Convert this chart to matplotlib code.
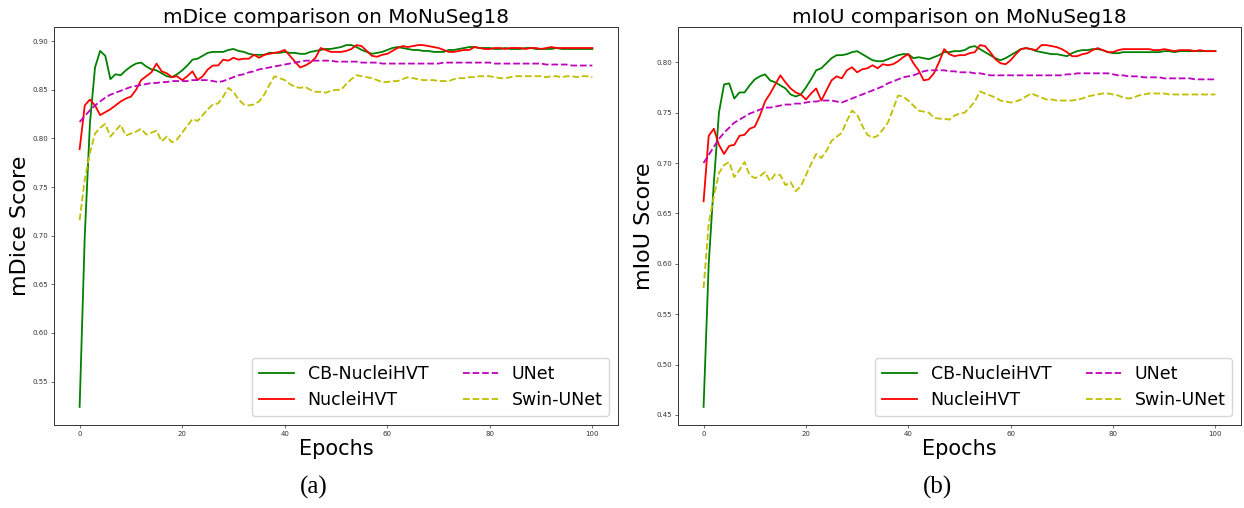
import matplotlib
matplotlib.use("Agg")
import matplotlib.pyplot as plt

plt.rcParams['font.family'] = ['DejaVu Sans']

epochs = list(range(0, 101))

# ---------------- (a) mDice ----------------
dice_cb = [0.524, 0.700, 0.815, 0.873, 0.890, 0.885, 0.861, 0.866, 0.865, 0.870,
           0.874, 0.877, 0.878, 0.874, 0.871, 0.870, 0.867, 0.864, 0.863, 0.866,
           0.870, 0.875, 0.881, 0.882, 0.885, 0.888, 0.889, 0.889, 0.889, 0.891,
           0.892, 0.890, 0.889, 0.887, 0.886, 0.886, 0.886, 0.888, 0.888, 0.888,
           0.889, 0.888, 0.888, 0.887, 0.887, 0.889, 0.890, 0.891, 0.892, 0.892,
           0.893, 0.894, 0.896, 0.896, 0.894, 0.891, 0.889, 0.887, 0.888, 0.889,
           0.891, 0.893, 0.894, 0.893, 0.892, 0.891, 0.891, 0.890, 0.890, 0.889,
           0.889, 0.889, 0.891, 0.891, 0.892, 0.893, 0.894, 0.894, 0.893, 0.893,
           0.893, 0.892, 0.892, 0.893, 0.892, 0.892, 0.892, 0.893, 0.893, 0.892,
           0.892, 0.892, 0.892, 0.893, 0.892, 0.892, 0.892, 0.892, 0.892, 0.892,
           0.892]
dice_hvt = [0.789, 0.834, 0.840, 0.834, 0.824, 0.827, 0.830, 0.834, 0.838, 0.841,
            0.843, 0.850, 0.860, 0.864, 0.868, 0.877, 0.869, 0.867, 0.863, 0.864,
            0.860, 0.864, 0.869, 0.860, 0.864, 0.871, 0.875, 0.875, 0.881, 0.880,
            0.883, 0.881, 0.882, 0.882, 0.886, 0.883, 0.886, 0.887, 0.888, 0.889,
            0.891, 0.885, 0.879, 0.873, 0.875, 0.878, 0.883, 0.893, 0.891, 0.889,
            0.889, 0.889, 0.890, 0.892, 0.896, 0.895, 0.890, 0.885, 0.884, 0.886,
            0.887, 0.890, 0.893, 0.895, 0.894, 0.895, 0.896, 0.896, 0.895, 0.894,
            0.893, 0.891, 0.889, 0.889, 0.890, 0.891, 0.891, 0.894, 0.893, 0.892,
            0.892, 0.893, 0.893, 0.892, 0.893, 0.893, 0.893, 0.892, 0.893, 0.893,
            0.892, 0.893, 0.894, 0.893, 0.893, 0.893, 0.893, 0.893, 0.893, 0.893,
            0.893]
dice_unet = [0.817, 0.823, 0.829, 0.834, 0.838, 0.842, 0.845, 0.847, 0.849, 0.851,
             0.853, 0.854, 0.855, 0.856, 0.857, 0.857, 0.858, 0.858, 0.859, 0.859,
             0.859, 0.859, 0.860, 0.860, 0.860, 0.860, 0.859, 0.858, 0.859, 0.861,
             0.863, 0.865, 0.866, 0.868, 0.869, 0.871, 0.872, 0.873, 0.874, 0.875,
             0.876, 0.877, 0.878, 0.879, 0.880, 0.880, 0.880, 0.880, 0.880, 0.880,
             0.879, 0.879, 0.879, 0.879, 0.879, 0.878, 0.878, 0.878, 0.878, 0.877,
             0.877, 0.877, 0.877, 0.877, 0.877, 0.877, 0.877, 0.877, 0.877, 0.877,
             0.877, 0.878, 0.878, 0.878, 0.878, 0.878, 0.878, 0.878, 0.878, 0.878,
             0.878, 0.877, 0.877, 0.877, 0.877, 0.877, 0.877, 0.877, 0.877, 0.877,
             0.877, 0.876, 0.876, 0.876, 0.876, 0.876, 0.875, 0.875, 0.875, 0.875,
             0.875]
dice_swin = [0.716, 0.758, 0.785, 0.805, 0.811, 0.815, 0.802, 0.808, 0.814, 0.803,
             0.805, 0.807, 0.810, 0.804, 0.806, 0.808, 0.797, 0.802, 0.796, 0.799,
             0.806, 0.813, 0.820, 0.818, 0.824, 0.830, 0.835, 0.836, 0.843, 0.852,
             0.848, 0.840, 0.835, 0.834, 0.835, 0.838, 0.845, 0.855, 0.864, 0.862,
             0.860, 0.856, 0.853, 0.852, 0.853, 0.850, 0.848, 0.848, 0.847, 0.849,
             0.850, 0.850, 0.856, 0.861, 0.865, 0.864, 0.863, 0.862, 0.860, 0.858,
             0.858, 0.859, 0.859, 0.861, 0.863, 0.862, 0.861, 0.860, 0.860, 0.860,
             0.859, 0.859, 0.859, 0.861, 0.862, 0.862, 0.863, 0.863, 0.864, 0.864,
             0.864, 0.863, 0.862, 0.862, 0.863, 0.864, 0.864, 0.864, 0.864, 0.864,
             0.864, 0.863, 0.864, 0.864, 0.863, 0.864, 0.864, 0.863, 0.864, 0.864,
             0.863]

# ---------------- (b) mIoU ----------------
iou_cb = [0.458, 0.600, 0.680, 0.750, 0.778, 0.779, 0.764, 0.770, 0.770, 0.777,
          0.783, 0.786, 0.788, 0.782, 0.780, 0.777, 0.774, 0.768, 0.766, 0.768,
          0.775, 0.783, 0.792, 0.794, 0.799, 0.804, 0.807, 0.807, 0.808, 0.810,
          0.811, 0.808, 0.805, 0.802, 0.801, 0.801, 0.803, 0.805, 0.807, 0.808,
          0.808, 0.804, 0.805, 0.804, 0.803, 0.805, 0.807, 0.810, 0.810, 0.811,
          0.811, 0.812, 0.815, 0.816, 0.813, 0.810, 0.807, 0.804, 0.802, 0.804,
          0.807, 0.810, 0.813, 0.814, 0.813, 0.811, 0.810, 0.809, 0.808, 0.808,
          0.807, 0.806, 0.809, 0.811, 0.812, 0.812, 0.813, 0.813, 0.812, 0.810,
          0.809, 0.809, 0.810, 0.810, 0.810, 0.810, 0.810, 0.810, 0.810, 0.810,
          0.811, 0.811, 0.810, 0.811, 0.811, 0.811, 0.811, 0.811, 0.811, 0.811,
          0.811]
iou_hvt = [0.662, 0.727, 0.734, 0.718, 0.709, 0.717, 0.718, 0.727, 0.728, 0.734,
           0.736, 0.747, 0.761, 0.769, 0.778, 0.787, 0.780, 0.774, 0.770, 0.768,
           0.763, 0.769, 0.774, 0.762, 0.772, 0.782, 0.786, 0.784, 0.792, 0.795,
           0.790, 0.793, 0.794, 0.797, 0.794, 0.798, 0.797, 0.798, 0.801, 0.805,
           0.808, 0.799, 0.792, 0.782, 0.783, 0.789, 0.800, 0.813, 0.808, 0.806,
           0.807, 0.807, 0.809, 0.810, 0.817, 0.816, 0.810, 0.803, 0.799, 0.798,
           0.802, 0.808, 0.813, 0.814, 0.813, 0.812, 0.817, 0.817, 0.816, 0.815,
           0.813, 0.810, 0.806, 0.806, 0.808, 0.809, 0.812, 0.814, 0.812, 0.810,
           0.810, 0.812, 0.813, 0.813, 0.813, 0.813, 0.813, 0.813, 0.812, 0.812,
           0.813, 0.812, 0.811, 0.812, 0.812, 0.812, 0.811, 0.812, 0.811, 0.811,
           0.811]
iou_unet = [0.700, 0.708, 0.716, 0.724, 0.730, 0.735, 0.740, 0.743, 0.746, 0.749,
            0.751, 0.753, 0.755, 0.755, 0.756, 0.757, 0.758, 0.758, 0.759, 0.759,
            0.760, 0.761, 0.761, 0.762, 0.762, 0.762, 0.761, 0.760, 0.762, 0.764,
            0.766, 0.768, 0.770, 0.772, 0.774, 0.776, 0.779, 0.781, 0.783, 0.785,
            0.786, 0.787, 0.789, 0.791, 0.792, 0.792, 0.792, 0.792, 0.791, 0.791,
            0.790, 0.790, 0.790, 0.789, 0.789, 0.788, 0.787, 0.787, 0.787, 0.787,
            0.787, 0.787, 0.787, 0.787, 0.787, 0.787, 0.787, 0.787, 0.787, 0.787,
            0.787, 0.788, 0.788, 0.789, 0.789, 0.789, 0.789, 0.789, 0.789, 0.789,
            0.788, 0.787, 0.787, 0.786, 0.786, 0.786, 0.785, 0.785, 0.785, 0.785,
            0.784, 0.784, 0.784, 0.784, 0.784, 0.784, 0.783, 0.783, 0.783, 0.783,
            0.783]
iou_swin = [0.576, 0.640, 0.667, 0.690, 0.698, 0.701, 0.686, 0.693, 0.701, 0.688,
            0.685, 0.687, 0.691, 0.682, 0.689, 0.688, 0.678, 0.681, 0.672, 0.677,
            0.688, 0.699, 0.709, 0.705, 0.712, 0.722, 0.726, 0.730, 0.742, 0.752,
            0.748, 0.737, 0.728, 0.725, 0.727, 0.733, 0.740, 0.753, 0.767, 0.766,
            0.762, 0.757, 0.752, 0.751, 0.750, 0.745, 0.744, 0.744, 0.743, 0.747,
            0.749, 0.750, 0.755, 0.761, 0.771, 0.769, 0.767, 0.765, 0.762, 0.761,
            0.760, 0.761, 0.763, 0.766, 0.769, 0.767, 0.765, 0.763, 0.763, 0.762,
            0.762, 0.762, 0.762, 0.763, 0.764, 0.766, 0.767, 0.768, 0.769, 0.769,
            0.768, 0.767, 0.765, 0.764, 0.765, 0.767, 0.768, 0.769, 0.769, 0.769,
            0.769, 0.768, 0.768, 0.768, 0.768, 0.768, 0.768, 0.768, 0.768, 0.768,
            0.768]

labels = ["CB-NucleiHVT", "NucleiHVT", "UNet", "Swin-UNet"]
titles = ["mDice comparison on MoNuSeg18", "mIoU comparison on MoNuSeg18"]
ylabels = ["mDice Score", "mIoU Score"]
captions = ["(a)", "(b)"]

W, H = 1244, 508
fig = plt.figure(figsize=(W / 100, H / 100), dpi=100)

def px_axes(l, r, t, b):
    return fig.add_axes([l / W, 1 - b / H, (r - l) / W, (b - t) / H])

ax_a = px_axes(54, 618, 27, 425)
ax_b = px_axes(678, 1241, 27, 425)
caption_x = [314, 938]

styles = [dict(color="green", ls="-"), dict(color="red", ls="-"),
          dict(color="m", ls="--"), dict(color="y", ls="--")]

panels = [(ax_a, [dice_cb, dice_hvt, dice_unet, dice_swin]),
          (ax_b, [iou_cb, iou_hvt, iou_unet, iou_swin])]

for i, (ax, series) in enumerate(panels):
    for s, lab, st in zip(series, labels, styles):
        ax.plot(epochs, s, label=lab, lw=1.3, **st)
    ax.set_title(titles[i], fontsize=14.4, pad=3)
    ax.set_ylabel(ylabels[i], fontsize=16, labelpad=2)
    ax.set_xlabel("Epochs", fontsize=15, labelpad=2)
    ax.set_xticks([0, 20, 40, 60, 80, 100])
    ax.tick_params(labelsize=5, length=2, width=0.5, pad=2, colors="#333333")
    for sp in ax.spines.values():
        sp.set_linewidth(0.7)
        sp.set_color("#333333")
    ax.legend(loc="lower right", ncol=2, fontsize=12.5, handlelength=2.0,
              columnspacing=2.0, borderaxespad=0.5)
    fig.text(caption_x[i] / W, 1 - 487 / H, captions[i], ha="center", va="center",
             fontsize=18, family=["Liberation Serif"])

fig.savefig("out.png", dpi=100)
